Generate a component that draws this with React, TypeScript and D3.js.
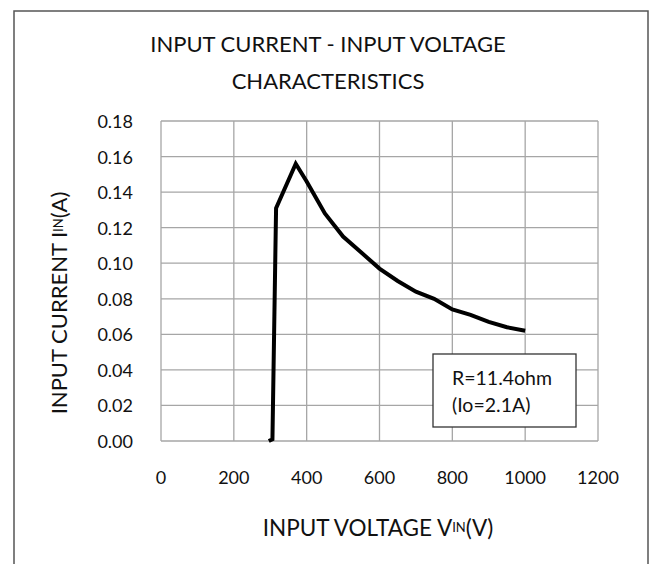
import * as d3 from 'd3';

// --- Data ---
const voltage = [296, 306, 316, 370, 400, 450, 500, 550, 600, 650, 700, 750, 800, 850, 900, 950, 1000];
const current = [0, 0.001, 0.131, 0.156, 0.146, 0.128, 0.115, 0.106, 0.097, 0.09, 0.084, 0.08, 0.074, 0.071, 0.067, 0.064, 0.062];
const xTicks = [0, 200, 400, 600, 800, 1000, 1200];
const yTicks = [0, 0.02, 0.04, 0.06, 0.08, 0.1, 0.12, 0.14, 0.16, 0.18];
const titleLines = ['INPUT CURRENT - INPUT VOLTAGE', 'CHARACTERISTICS'];
const legendLines = ['R=11.4ohm', '(Io=2.1A)'];

const W = 656;
const H = 564;
const FONT = 'Lato, "Open Sans", sans-serif';

const plot = { left: 161, right: 598, top: 121, bottom: 441 };

export default function App() {
    const x = d3.scaleLinear().domain([0, 1200]).range([plot.left, plot.right]);
    const y = d3.scaleLinear().domain([0, 0.18]).range([plot.bottom, plot.top]);

    const points = voltage.map((v, i) => [v, current[i]] as [number, number]);
    const line = d3.line<[number, number]>()
        .x(d => x(d[0]))
        .y(d => y(d[1]));

    return (
        <svg width={W} height={H} style={{ position: 'absolute', left: 0, top: 0, background: '#fff' }}>
            {/* outer frame */}
            <rect x={14} y={11} width={634} height={600} fill="#fff" stroke="#555" strokeWidth={1.5} />

            {/* title */}
            {titleLines.map((t, i) => (
                <text key={t} x={328} y={43 + i * 37} textAnchor="middle" dominantBaseline="central"
                      fontFamily={FONT} fontSize={22} fill="#111">{t}</text>
            ))}

            {/* grid */}
            {xTicks.map(t => (
                <line key={'gx' + t} x1={x(t)} x2={x(t)} y1={plot.top} y2={plot.bottom} stroke="#a6a6a6" strokeWidth={1.3} />
            ))}
            {yTicks.map(t => (
                <line key={'gy' + t} x1={plot.left} x2={plot.right} y1={y(t)} y2={y(t)} stroke="#a6a6a6" strokeWidth={1.3} />
            ))}

            {/* tick labels */}
            {yTicks.map(t => (
                <text key={'ly' + t} x={133} y={y(t)} textAnchor="end" dominantBaseline="central"
                      fontFamily={FONT} fontSize={18} fill="#111">{t.toFixed(2)}</text>
            ))}
            {xTicks.map(t => (
                <text key={'lx' + t} x={x(t)} y={477} textAnchor="middle" dominantBaseline="central"
                      fontFamily={FONT} fontSize={18} fill="#111">{t}</text>
            ))}

            {/* data line */}
            <path d={line(points) ?? ''} fill="none" stroke="#000" strokeWidth={4} strokeLinejoin="miter" />

            {/* legend box */}
            <rect x={433} y={354} width={143} height={73} fill="#fff" stroke="#333" strokeWidth={1.3} />
            {legendLines.map((t, i) => (
                <text key={t} x={452} y={377 + i * 27} dominantBaseline="central"
                      fontFamily={FONT} fontSize={19.5} fill="#111">{t}</text>
            ))}

            {/* axis titles */}
            <text x={378} y={527} textAnchor="middle" dominantBaseline="central" fontFamily={FONT} fontSize={22.5} fill="#111">
                INPUT VOLTAGE V<tspan fontSize={13}>IN</tspan>(V)
            </text>
            <text transform="translate(58,303) rotate(-90)" textAnchor="middle" dominantBaseline="central"
                  fontFamily={FONT} fontSize={22} fill="#111">
                INPUT CURRENT I<tspan fontSize={13}>IN</tspan>(A)
            </text>
        </svg>
    );
}
